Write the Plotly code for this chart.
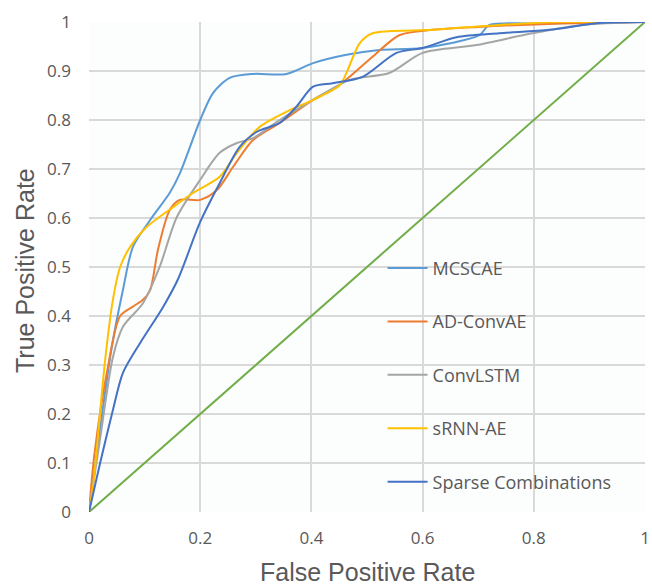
import plotly.graph_objects as go

# ---- data ----
mcscae_x = [0, 0.02, 0.04, 0.061, 0.079, 0.11, 0.145, 0.163, 0.2, 0.223, 0.253, 0.295, 0.355, 0.403, 0.463, 0.522, 0.6, 0.702, 0.72, 0.8, 1.0]
mcscae_y = [0, 0.17, 0.33, 0.453, 0.541, 0.596, 0.651, 0.69, 0.80, 0.855, 0.886, 0.894, 0.894, 0.916, 0.933, 0.943, 0.947, 0.973, 0.994, 0.997, 1.0]

adconv_x = [0, 0.01, 0.034, 0.056, 0.08, 0.097, 0.11, 0.124, 0.145, 0.163, 0.2, 0.23, 0.259, 0.295, 0.343, 0.403, 0.45, 0.51, 0.558, 0.618, 0.7, 0.85, 1]
adconv_y = [0, 0.12, 0.296, 0.40, 0.42, 0.433, 0.453, 0.535, 0.616, 0.637, 0.637, 0.657, 0.704, 0.759, 0.794, 0.841, 0.871, 0.929, 0.973, 0.984, 0.99, 0.997, 1]

convlstm_x = [0, 0.02, 0.043, 0.061, 0.097, 0.127, 0.158, 0.2, 0.235, 0.266, 0.295, 0.343, 0.403, 0.469, 0.54, 0.60, 0.697, 0.797, 0.887, 1]
convlstm_y = [0, 0.15, 0.316, 0.378, 0.426, 0.50, 0.602, 0.678, 0.733, 0.753, 0.763, 0.80, 0.841, 0.882, 0.896, 0.937, 0.953, 0.977, 0.994, 1]

srnn_x = [0, 0.008, 0.029, 0.043, 0.056, 0.074, 0.104, 0.151, 0.187, 0.235, 0.266, 0.307, 0.361, 0.403, 0.451, 0.463, 0.487, 0.51, 0.618, 0.738, 0.85, 1]
srnn_y = [0, 0.06, 0.31, 0.433, 0.50, 0.541, 0.582, 0.622, 0.651, 0.684, 0.733, 0.786, 0.82, 0.841, 0.871, 0.896, 0.957, 0.977, 0.984, 0.994, 1, 1]

sparse_x = [0, 0.02, 0.043, 0.061, 0.092, 0.133, 0.16, 0.2, 0.235, 0.271, 0.302, 0.343, 0.373, 0.403, 0.438, 0.492, 0.553, 0.60, 0.661, 0.738, 0.828, 0.917, 1]
sparse_y = [0, 0.1, 0.208, 0.284, 0.345, 0.418, 0.475, 0.592, 0.671, 0.745, 0.776, 0.794, 0.827, 0.868, 0.875, 0.888, 0.937, 0.947, 0.969, 0.977, 0.984, 0.998, 1]

chance_x = [0, 1]
chance_y = [0, 1]

series_names = ["MCSCAE", "AD-ConvAE", "ConvLSTM", "sRNN-AE", "Sparse Combinations"]
series_colors = ["#5B9BD5", "#ED7D31", "#A5A5A5", "#FFC000", "#4472C4"]
series_data = [(mcscae_x, mcscae_y), (adconv_x, adconv_y), (convlstm_x, convlstm_y),
               (srnn_x, srnn_y), (sparse_x, sparse_y)]

x_ticks = [0, 0.2, 0.4, 0.6, 0.8, 1]
y_ticks = [0, 0.1, 0.2, 0.3, 0.4, 0.5, 0.6, 0.7, 0.8, 0.9, 1]
x_title = "False Positive Rate"
y_title = "True Positive Rate"

FONT = "Open Sans"
TITLE_FONT = "Liberation Sans"
TXT = "#595959"

fig = go.Figure()
fig.add_trace(go.Scatter(x=chance_x, y=chance_y, mode="lines",
                         line=dict(color="#70AD47", width=2), showlegend=False))
for name, color, (xs, ys) in zip(series_names, series_colors, series_data):
    fig.add_trace(go.Scatter(x=xs, y=ys, mode="lines", name=name, legendgroup=name,
                             line=dict(color=color, width=2, shape="spline", smoothing=0.8)))

axis_common = dict(range=[0, 1], showgrid=True, gridcolor="#D9D9D9", gridwidth=1.6,
                   zeroline=False, showline=False, ticks="", automargin=False,
                   tickfont=dict(size=17, color=TXT, family=FONT))

fig.update_layout(
    width=652, height=587,
    margin=dict(l=89, r=7, t=22, b=75, autoexpand=False),
    paper_bgcolor="white", plot_bgcolor="#FCFDFD",
    font=dict(family=FONT, color=TXT, size=17),
    legend=dict(x=0.528, y=0.535, xanchor="left", yanchor="top",
                bgcolor="rgba(0,0,0,0)", font=dict(size=18, color=TXT, family=FONT),
                traceorder="grouped", tracegroupgap=27, itemwidth=40),
    xaxis=dict(tickvals=x_ticks, ticktext=[f"{v:g}" for v in x_ticks],
               ticklabelstandoff=14, **axis_common),
    yaxis=dict(tickvals=y_ticks, ticktext=[f"{v:g}" for v in y_ticks],
               ticklabelstandoff=17, **axis_common),
    annotations=[
        dict(text=x_title, xref="paper", yref="paper", x=0.5, y=-0.122,
             xanchor="center", yanchor="middle", showarrow=False,
             font=dict(size=25, color=TXT, family=TITLE_FONT)),
        dict(text=y_title, xref="paper", yref="paper", x=-0.115, y=0.492,
             xanchor="center", yanchor="middle", showarrow=False, textangle=-90,
             font=dict(size=25, color=TXT, family=TITLE_FONT)),
    ],
)

fig.write_html("out.html")
